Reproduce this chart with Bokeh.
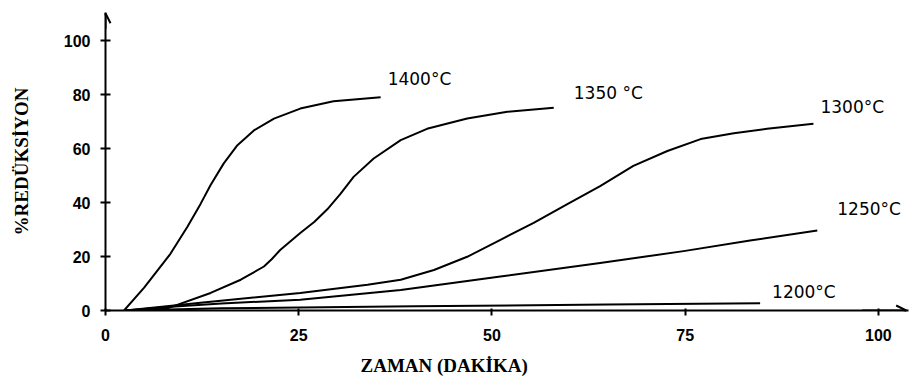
from bokeh.plotting import figure
from bokeh.models import Arrow, OpenHead, Title, ColumnDataSource
from bokeh.embed import file_html
from bokeh.resources import INLINE
from bokeh.core.properties import value

# ---- data ----
x_ticks = [0, 25, 50, 75, 100]
y_ticks = [0, 20, 40, 60, 80, 100]

t_1400 = [2.4, 5.0, 8.4, 10.6, 12.3, 13.6, 15.3, 17.0, 19.2, 21.8, 25.2, 29.5, 35.6]
r_1400 = [0, 8.5, 21.0, 31.0, 39.5, 46.5, 54.5, 61.0, 66.7, 71.1, 74.8, 77.5, 79.0]

t_1350 = [2.5, 8.0, 13.6, 17.5, 20.5, 21.5, 22.6, 25.2, 27.0, 28.7, 30.4, 32.1, 34.7, 38.2, 41.6, 46.8, 52.0, 58.0]
r_1350 = [0, 0.8, 6.5, 11.4, 16.3, 19.0, 22.4, 28.7, 32.8, 37.5, 43.2, 49.5, 56.3, 63.1, 67.3, 71.1, 73.6, 75.1]

t_1300 = [2.6, 12.3, 25.2, 33.9, 38.2, 42.5, 46.8, 51.1, 55.4, 59.7, 64.0, 68.3, 72.7, 77.0, 81.3, 85.6, 91.6]
r_1300 = [0, 2.9, 6.5, 9.5, 11.4, 15.0, 19.9, 26.2, 32.5, 39.3, 46.1, 53.6, 59.1, 63.5, 65.7, 67.3, 69.2]

t_1250 = [2.6, 8.0, 15.0, 25.2, 38.2, 51.1, 64.0, 74.8, 83.4, 92.1]
r_1250 = [0, 1.3, 2.6, 4.0, 7.6, 12.6, 17.6, 22.0, 25.9, 29.6]

t_1200 = [2.6, 15.0, 40.0, 65.0, 84.7]
r_1200 = [0, 0.8, 1.6, 2.2, 2.7]

labels = ["1400°C", "1350 °C", "1300°C", "1250°C", "1200°C"]
x_label = "ZAMAN (DAKİKA)"
y_label = "%REDÜKSİYON"

series_t = [t_1400, t_1350, t_1300, t_1250, t_1200]
series_r = [r_1400, r_1350, r_1300, r_1250, r_1200]

# ---- styling / layout ----
label_dx = [7, 20, 7, 20, 12]
label_dy = [-18, -15, -17, -22, -11]

X_END = 103.9
Y_END = 110.4

p = figure(width=911, height=392, x_range=(0, X_END), y_range=(0, Y_END),
           output_backend="svg", toolbar_location=None,
           min_border_left=105, min_border_right=3,
           min_border_top=12, min_border_bottom=82)
p.background_fill_color = "white"
p.border_fill_color = "white"
p.outline_line_color = None
p.grid.visible = False

for ax in (p.xaxis, p.yaxis):
    ax.axis_line_width = 2
    ax.axis_line_color = "black"
    ax.major_tick_line_width = 2
    ax.major_tick_line_color = "black"
    ax.minor_tick_line_color = None
    ax.major_label_text_font = "Liberation Sans"
    ax.major_label_text_font_size = "16px"
    ax.major_label_text_font_style = "bold"
    ax.major_label_text_color = "black"

p.xaxis.ticker = x_ticks
p.yaxis.ticker = y_ticks
p.xaxis.major_tick_in = 2
p.xaxis.major_tick_out = 5
p.xaxis.major_label_standoff = 13
p.yaxis.major_tick_in = 5
p.yaxis.major_tick_out = 5
p.yaxis.major_label_standoff = 10

p.yaxis.axis_label = y_label
p.yaxis.axis_label_text_font = "Liberation Serif"
p.yaxis.axis_label_text_font_style = "bold"
p.yaxis.axis_label_text_font_size = "19px"
p.yaxis.axis_label_text_color = "black"
p.yaxis.axis_label_standoff = 29

p.add_layout(Title(text=x_label, align="left", offset=255, standoff=18,
                   text_font="Liberation Serif", text_font_style="bold",
                   text_font_size="19px", text_color="black"), "below")

for t, r in zip(series_t, series_r):
    p.line(t, r, line_color="black", line_width=2, line_join="round")

src = ColumnDataSource(dict(
    x=[t[-1] for t in series_t],
    y=[r[-1] for r in series_r],
    text=labels, dx=label_dx, dy=label_dy))
p.text(x="x", y="y", text="text", x_offset="dx", y_offset="dy", source=src,
       text_font=value("DejaVu Sans"), text_font_size="17px",
       text_align="left", text_baseline="middle", text_color="black")

# axis arrows
p.add_layout(Arrow(end=OpenHead(size=10, line_width=2, line_color="black"),
                   x_start=0, y_start=Y_END - 6, x_end=0, y_end=Y_END - 0.3,
                   line_width=2, line_color="black"))
p.add_layout(Arrow(end=OpenHead(size=10, line_width=2, line_color="black"),
                   x_start=X_END - 6, y_start=0, x_end=X_END - 0.3, y_end=0,
                   line_width=2, line_color="black"))

open("out.html", "w").write(file_html(p, INLINE))
